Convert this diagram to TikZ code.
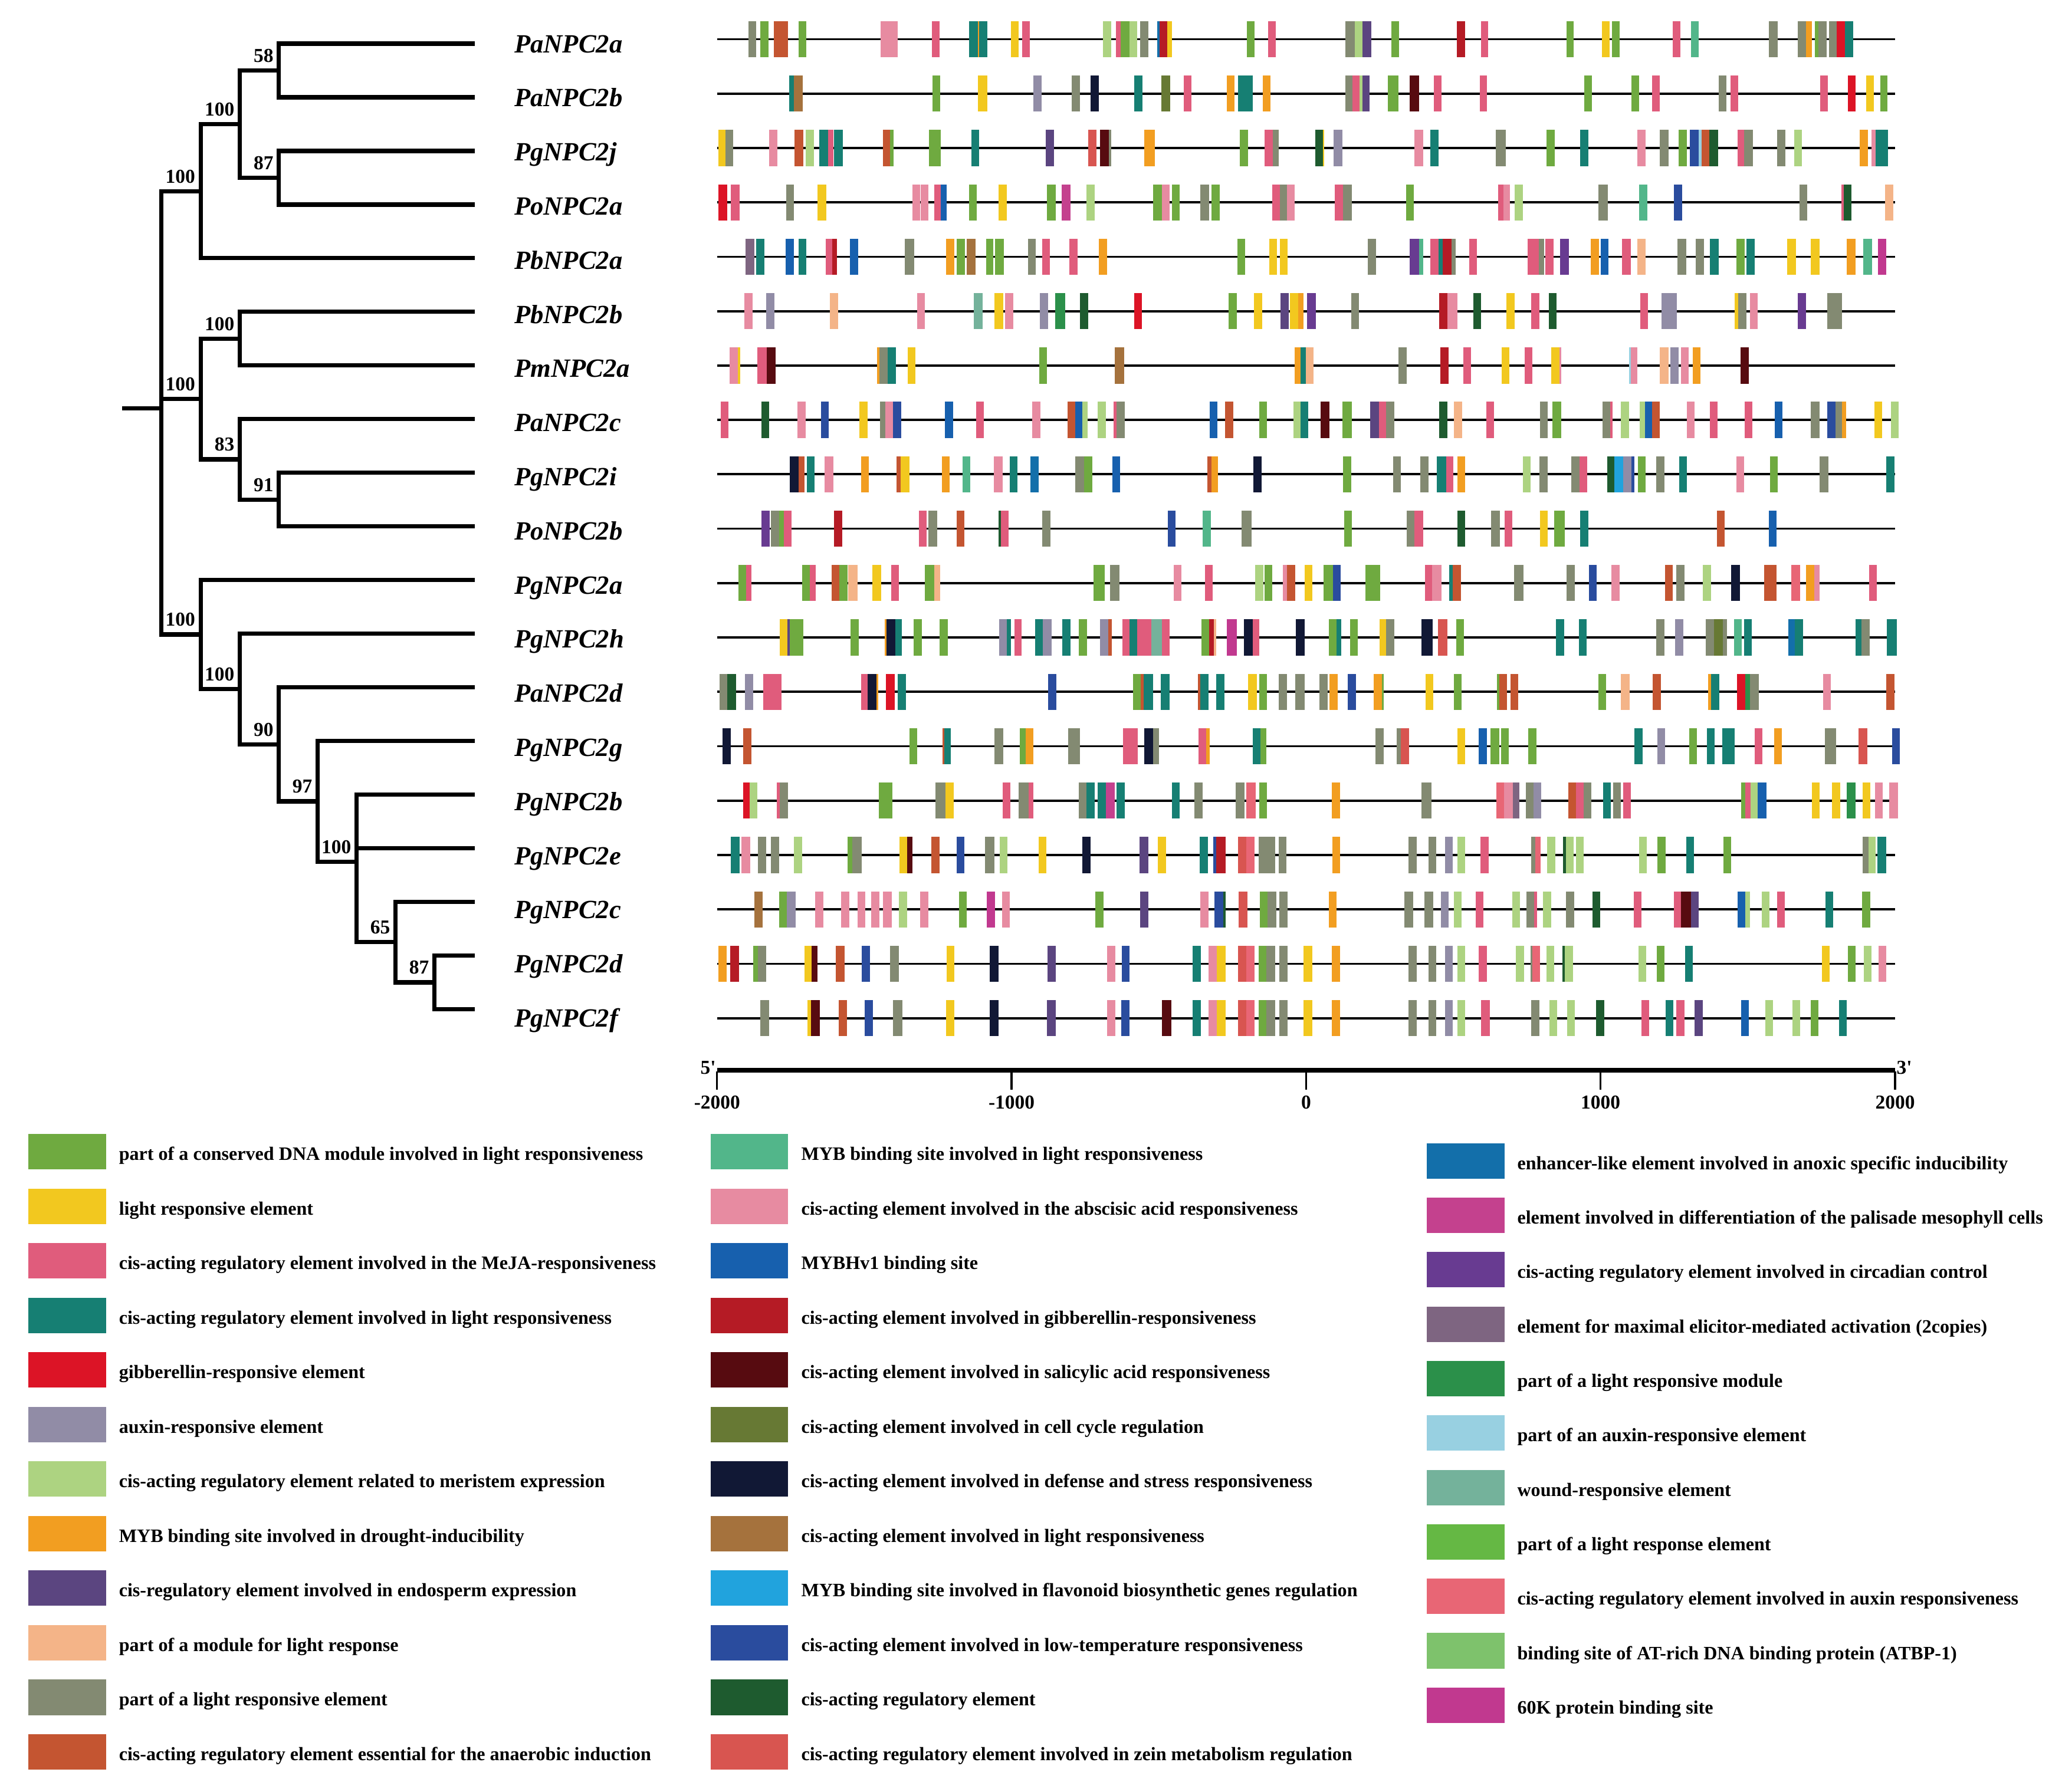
\documentclass[tikz,border=0pt]{standalone}
\usepackage{fontspec}
\setmainfont{Liberation Serif}
\newfontfamily\qfont[Ligatures=TeXOff]{Liberation Serif}
\definecolor{G1}{HTML}{6FAA40}
\definecolor{YE}{HTML}{F2C81F}
\definecolor{PR}{HTML}{E05C7C}
\definecolor{TE}{HTML}{167F73}
\definecolor{RE}{HTML}{DC1426}
\definecolor{LA}{HTML}{918CA6}
\definecolor{LG}{HTML}{ADD381}
\definecolor{OR}{HTML}{F29E21}
\definecolor{PU}{HTML}{5B4580}
\definecolor{PE}{HTML}{F4B488}
\definecolor{GG}{HTML}{838A72}
\definecolor{RU}{HTML}{C45531}
\definecolor{SG}{HTML}{52B68A}
\definecolor{PK}{HTML}{E78BA1}
\definecolor{BL}{HTML}{1760AE}
\definecolor{DR}{HTML}{B51B25}
\definecolor{MA}{HTML}{570B10}
\definecolor{OL}{HTML}{677934}
\definecolor{NA}{HTML}{111835}
\definecolor{BR}{HTML}{A5723D}
\definecolor{SK}{HTML}{21A3DD}
\definecolor{RB}{HTML}{2A4C9E}
\definecolor{DG}{HTML}{1E5B2F}
\definecolor{CO}{HTML}{D85550}
\definecolor{EB}{HTML}{136FAA}
\definecolor{MG}{HTML}{C4418E}
\definecolor{VI}{HTML}{683B91}
\definecolor{MV}{HTML}{7E6581}
\definecolor{LM}{HTML}{2B904A}
\definecolor{LB}{HTML}{98D0E1}
\definecolor{WS}{HTML}{74B29B}
\definecolor{BG}{HTML}{65B844}
\definecolor{SA}{HTML}{E86675}
\definecolor{AT}{HTML}{7EC26C}
\definecolor{MK}{HTML}{C1398F}
\newcommand\trkL[2]{\foreach \bxa/\bxb/\bxc in {#2}{\fill[\bxc] ({538.2+0.2946*\bxa},{29.8+41.37*#1-13.75}) rectangle ({538.2+0.2946*\bxb},{29.8+41.37*#1+13.75});}}
\newcommand\trkR[2]{\foreach \bxa/\bxb/\bxc in {#2}{\fill[\bxc] ({986.7+0.2946*\bxa},{29.8+41.37*#1-13.75}) rectangle ({986.7+0.2946*\bxb},{29.8+41.37*#1+13.75});}}
\tikzset{
 tree/.style={line width=3.2pt, line join=miter},
 bs/.style={font=\fontsize{15}{18}\selectfont\bfseries, inner sep=0pt, anchor=south east},
 gene/.style={font=\fontsize{20}{24}\selectfont\bfseries\itshape, inner sep=0pt, anchor=base west},
 track/.style={line width=1.7pt},
 legsw/.style={minimum width=59pt, minimum height=27pt, inner sep=0pt, draw=none},
 legtx/.style={font=\fontsize{14.4}{17}\selectfont\bfseries, inner sep=0pt, anchor=base west},
 axl/.style={font=\fontsize{15}{18}\selectfont\bfseries, inner sep=0pt},
}
\begin{document}
\begin{tikzpicture}[x=1pt,y=-1pt]
\useasboundingbox (0,0) rectangle (1568,1363);
% ---------- tree ----------
\foreach \i in {0,...,18} \coordinate (leaf\i) at (361,{33.2+40.8*\i});
\coordinate (n58) at (212.1,53.6);
\coordinate (n87a) at (212.1,135.2);
\coordinate (n1a) at (182.4,94.4);
\coordinate (n1) at (152.6,145.4);
\coordinate (n56) at (182.4,257.6);
\coordinate (n91) at (212.1,380);
\coordinate (n83) at (182.4,349.4);
\coordinate (n2) at (152.6,303.5);
\coordinate (n87b) at (330.4,747.2);
\coordinate (n65) at (300.8,716.6);
\coordinate (n100p) at (271.2,655.4);
\coordinate (n97) at (241.6,609.5);
\coordinate (n90) at (212.1,566.1);
\coordinate (n100c) at (182.4,524.1);
\coordinate (n3) at (152.6,482.6);
\coordinate (root) at (122.8,310.5);
\coordinate (rootstub) at (92.8,310.5);
\draw[tree] (rootstub) -- (root);
\draw[tree] (root) |- (n1); \draw[tree] (root) |- (n2); \draw[tree] (root) |- (n3);
\draw[tree] (n1) |- (n1a); \draw[tree] (n1) |- (leaf4);
\draw[tree] (n1a) |- (n58); \draw[tree] (n1a) |- (n87a);
\draw[tree] (n58) |- (leaf0); \draw[tree] (n58) |- (leaf1);
\draw[tree] (n87a) |- (leaf2); \draw[tree] (n87a) |- (leaf3);
\draw[tree] (n2) |- (n56); \draw[tree] (n2) |- (n83);
\draw[tree] (n56) |- (leaf5); \draw[tree] (n56) |- (leaf6);
\draw[tree] (n83) |- (leaf7); \draw[tree] (n83) |- (n91);
\draw[tree] (n91) |- (leaf8); \draw[tree] (n91) |- (leaf9);
\draw[tree] (n3) |- (leaf10); \draw[tree] (n3) |- (n100c);
\draw[tree] (n100c) |- (leaf11); \draw[tree] (n100c) |- (n90);
\draw[tree] (n90) |- (leaf12); \draw[tree] (n90) |- (n97);
\draw[tree] (n97) |- (leaf13); \draw[tree] (n97) |- (n100p);
\draw[tree] (n100p) |- (leaf14); \draw[tree] (n100p) |- (leaf15); \draw[tree] (n100p) |- (n65);
\draw[tree] (n65) |- (leaf16); \draw[tree] (n65) |- (n87b);
\draw[tree] (n87b) |- (leaf17); \draw[tree] (n87b) |- (leaf18);
\foreach \n/\v in {n58/58,n87a/87,n1a/100,n1/100,n56/100,n2/100,n83/83,n91/91,n3/100,n100c/100,n90/90,n97/97,n100p/100,n65/65,n87b/87}
  \node[bs] (b\n) at ([xshift=-4pt,yshift=6pt]\n) {\v};
% ---------- gene labels ----------
\foreach \i/\g in {0/PaNPC2a,1/PaNPC2b,2/PgNPC2j,3/PoNPC2a,4/PbNPC2a,5/PbNPC2b,6/PmNPC2a,7/PaNPC2c,8/PgNPC2i,9/PoNPC2b,10/PgNPC2a,11/PgNPC2h,12/PaNPC2d,13/PgNPC2g,14/PgNPC2b,15/PgNPC2e,16/PgNPC2c,17/PgNPC2d,18/PgNPC2f}
  \node[gene] (g\i) at (391,{33+41.17*\i+7}) {\g};
% ---------- tracks ----------
\foreach \i in {0,...,18}{
  \coordinate (ts\i) at (545.6,{29.8+41.37*\i});
  \coordinate (te\i) at (1441,{29.8+41.37*\i});
  \draw[track] (ts\i) -- (te\i);
}
\trkL{0}{105/125/GG,136/157/G1,170/207/RU,234/255/G1,446/490/PK,579/599/PR,675/697/TE,697/700/OR,700/721/TE,782/802/YE,812/832/PR,1020/1041/LG,1053/1066/PR,1066/1088/G1,1088/1108/LG,1116/1138/GG,1160/1166/EB,1166/1186/DR,1186/1198/YE,1392/1412/G1,1446/1466/PR}
\trkR{0}{123/148/GG,148/167/LG,167/190/PU,242/262/G1,411/432/DR,473/492/PR,694/713/G1,786/806/YE,812/832/G1,968/988/PR,1015/1035/SG,1217/1240/GG,1291/1313/GG,1313/1328/OR,1335/1345/G1,1345/1365/GG,1372/1392/GG,1392/1413/RE,1413/1434/TE}
\trkL{1}{210/222/TE,222/245/BR,580/600/G1,697/721/YE,840/861/LA,940/960/GG,988/1010/NA,1101/1122/TE,1171/1194/OL,1228/1248/PR,1340/1360/OR,1368/1407/TE,1433/1452/OR}
\trkR{1}{123/142/GG,142/160/PR,160/167/LG,167/186/PU,233/260/G1,290/314/MA,351/371/PR,470/489/PR,740/760/G1,862/882/G1,915/935/PR,1087/1107/GG,1117/1137/PR,1349/1369/PR,1420/1440/RE,1468/1488/YE,1504/1523/G1}
\trkL{2}{28/45/YE,45/65/GG,158/179/PK,224/246/RU,253/274/LG,288/310/TE,310/324/PR,326/349/TE,452/470/RU,470/480/G1,571/602/G1,680/701/TE,872/893/PU,982/1004/CO,1012/1035/MA,1035/1042/GG,1127/1154/OR,1374/1394/G1,1437/1458/PR,1458/1473/GG}
\trkR{2}{46/66/DG,66/69/YE,93/115/LA,301/325/PK,343/364/TE,512/537/GG,643/664/G1,730/751/TE,877/898/PK,935/957/GG,984/1005/G1,1013/1036/RB,1036/1043/LB,1043/1063/RU,1063/1085/DG,1136/1152/PR,1152/1176/GG,1238/1259/GG,1282/1302/LG,1451/1472/OR,1482/1492/PK,1492/1524/TE}
\trkL{3}{28/50/RE,60/82/PR,202/223/GG,283/306/YE,528/548/PK,550/570/PK,584/602/PR,602/616/BL,674/695/G1,751/772/YE,876/898/G1,913/936/MG,978/999/LG,1150/1172/G1,1172/1192/PK,1198/1218/G1,1272/1294/GG,1300/1321/G1,1457/1477/PR,1477/1495/GG,1495/1515/PK}
\trkR{3}{96/117/PR,117/140/GG,280/300/G1,517/532/PR,532/548/PK,560/581/LG,777/801/GG,881/903/SG,972/993/RB,1296/1316/GG,1404/1410/PR,1410/1430/DG,1516/1538/PE}
\trkL{4}{97/120/MV,125/146/TE,201/222/BL,234/255/TE,304/322/PR,322/334/DR,367/388/BL,508/533/GG,615/636/OR,642/664/G1,668/691/BR,718/737/G1,741/764/G1,827/847/GG,863/883/PR,934/955/PR,1010/1031/OR,1367/1387/G1,1449/1469/YE,1477/1497/YE}
\trkR{4}{181/202/GG,290/313/VI,313/325/SG,343/364/PR,364/374/TE,374/397/DR,397/408/GG,443/463/PR,594/623/PR,623/636/GG,640/661/PR,678/701/VI,757/778/OR,782/803/BL,838/860/PR,877/898/PE,981/1004/GG,1027/1049/GG,1064/1087/TE,1133/1154/G1,1158/1180/TE,1264/1286/YE,1325/1347/YE,1418/1440/OR,1460/1483/SG,1498/1520/MK}
\trkL{5}{94/115/PK,150/172/LA,315/337/PE,540/560/PK,687/709/WS,740/762/YE,767/789/PK,857/878/LA,896/922/LM,961/982/DG,1100/1121/RE,1345/1366/G1,1410/1431/YE,1478/1500/PU,1502/1524/YE,1524/1537/OR}
\trkR{5}{25/48/VI,138/158/GG,365/387/DR,387/412/PK,453/473/DG,539/560/YE,603/624/PR,648/668/DG,884/905/PR,940/979/LA,1128/1138/YE,1138/1158/GG,1168/1188/PK,1291/1313/VI,1367/1405/GG}
\trkL{6}{56/77/PK,77/83/YE,128/152/PR,152/175/MA,437/443/OR,443/465/GG,465/486/TE,516/536/YE,856/876/G1,1050/1075/BR,1515/1530/OR,1530/1543/TE,1543/1564/PE}
\trkR{6}{260/282/GG,368/390/DR,428/448/PR,527/547/YE,586/606/PR,654/676/YE,676/680/PK,855/860/LB,860/877/PK,935/957/PE,962/983/LA,990/1010/PK,1020/1040/OR,1143/1165/MA}
\trkL{7}{34/54/PR,138/158/DG,231/252/PK,292/312/RB,391/412/YE,445/458/GG,458/478/PK,478/499/RB,612/634/BL,692/712/PR,838/858/PK,929/948/RU,948/966/BL,966/980/LG,1007/1028/LG,1048/1055/PR,1055/1076/GG,1295/1315/BL,1335/1356/RU,1423/1443/G1,1512/1530/LG,1530/1550/TE}
\trkR{7}{60/82/MA,115/140/G1,188/210/PU,210/228/PR,228/250/GG,366/387/DG,403/425/PE,487/507/PR,625/646/GG,658/680/G1,787/807/GG,807/813/PR,835/856/LG,883/897/LG,897/915/BL,915/935/RU,1005/1025/PK,1064/1084/PR,1154/1174/PR,1231/1252/BL,1324/1347/GG,1367/1388/RB,1388/1405/GG,1405/1416/OR,1489/1509/YE,1532/1552/LG}
\trkL{8}{212/234/NA,234/250/RU,256/276/TE,301/325/PK,396/416/OR,487/498/RU,498/520/YE,604/624/OR,657/678/SG,738/761/PK,780/800/TE,833/854/EB,948/972/GG,972/992/G1,1044/1064/BL,1290/1300/RU,1300/1317/OR,1408/1430/NA}
\trkR{8}{118/138/G1,247/267/GG,316/338/GG,360/383/TE,383/402/PR,412/432/OR,582/602/LG,624/645/GG,707/728/GG,728/747/PR,800/818/DG,818/840/SK,840/862/LA,862/869/RB,878/898/G1,926/947/GG,985/1005/TE,1133/1153/PK,1219/1239/G1,1347/1370/GG,1519/1540/TE}
\trkL{9}{138/160/VI,163/184/GG,184/196/G1,196/216/PR,326/347/DR,545/565/PR,569/592/GG,642/663/RU,751/757/DG,757/777/PR,863/884/GG,1187/1208/RB,1277/1299/SG,1378/1403/GG}
\trkR{9}{120/140/G1,281/302/GG,302/324/PR,413/433/DG,500/522/GG,535/554/PR,626/645/YE,663/690/G1,729/750/TE,1082/1102/RU,1217/1237/BL}
\trkL{10}{79/99/G1,99/113/PR,243/263/G1,263/279/PR,320/340/RU,340/361/G1,363/386/PE,425/448/YE,473/493/PR,560/584/G1,584/600/PE,995/1025/G1,1039/1063/GG,1202/1223/PK,1283/1303/PR,1413/1434/LG,1437/1457/G1,1485/1495/PK,1495/1516/RU,1540/1560/YE}
\trkR{10}{67/91/G1,91/111/RB,175/213/G1,329/347/PR,347/372/PK,391/401/TE,401/422/RU,559/583/GG,694/715/GG,752/772/RB,810/831/PK,949/969/RU,977/999/GG,1046/1067/LG,1119/1142/NA,1205/1237/RU,1275/1297/SA,1312/1333/OR,1333/1348/PK,1475/1495/PR}
\trkL{11}{186/206/YE,206/211/PU,211/247/G1,369/390/G1,457/462/OR,462/484/NA,484/501/TE,532/553/G1,599/620/G1,752/772/LA,772/783/TE,791/810/PR,845/865/TE,865/888/LA,915/936/TE,958/979/G1,1013/1033/LA,1033/1043/RU,1071/1088/PR,1088/1108/TE,1108/1125/PR,1125/1145/PR,1145/1172/WS,1172/1192/PR,1275/1294/G1,1294/1306/DR,1306/1313/PE,1340/1366/MK,1384/1406/NA,1406/1424/PR,1518/1540/NA}
\trkR{11}{81/101/G1,101/113/TE,135/155/G1,211/229/YE,229/250/GG,320/348/NA,362/386/CO,410/430/G1,667/688/TE,726/746/TE,926/947/GG,974/996/LA,1054/1075/GG,1075/1097/OL,1097/1108/GG,1126/1146/SG,1152/1172/TE,1266/1284/EB,1284/1304/TE,1440/1455/TE,1455/1477/GG,1521/1547/TE}
\trkL{12}{30/50/GG,50/73/DG,96/118/LA,143/190/PR,396/413/PR,413/436/NA,436/440/OR,460/482/RE,491/512/TE,878/900/RB,1098/1118/G1,1118/1125/RU,1125/1150/TE,1170/1192/TE,1265/1272/RU,1272/1292/TE,1312/1333/TE,1395/1417/YE,1423/1443/G1,1473/1495/GG,1517/1540/GG}
\trkR{12}{57/78/GG,82/103/OR,130/151/RB,197/217/OR,217/222/G1,330/350/YE,403/423/G1,515/521/G1,521/541/RU,549/569/RU,776/796/G1,835/857/PE,917/938/RU,1060/1068/OR,1068/1088/TE,1135/1155/RE,1155/1168/LM,1168/1191/GG,1356/1376/PK,1520/1540/RU}
\trkL{13}{38/60/NA,92/112/RU,521/541/G1,606/610/RU,610/628/TE,740/763/GG,805/820/G1,820/840/OR,930/961/GG,1072/1110/PR,1126/1150/NA,1150/1165/GG,1267/1286/PR,1286/1295/OR,1406/1426/TE,1426/1442/G1}
\trkR{13}{201/223/GG,256/266/GG,266/288/CO,413/433/YE,468/489/BL,498/520/G1,525/545/G1,595/616/G1,870/890/TE,928/948/LA,1011/1031/G1,1056/1076/TE,1096/1128/TE,1180/1200/PR,1230/1250/OR,1361/1390/GG,1448/1470/CO,1535/1555/RB}
\trkL{14}{92/108/RE,108/128/LG,178/185/PR,185/207/GG,441/477/G1,587/614/GG,614/635/YE,761/781/PR,803/828/GG,828/840/PR,958/978/GG,978/998/TE,1007/1027/TE,1027/1050/MG,1055/1076/TE,1198/1218/TE,1256/1278/GG,1363/1385/GG,1390/1414/SA,1423/1444/G1}
\trkR{14}{89/110/OR,320/345/GG,513/533/SA,533/556/PK,556/572/MV,589/609/GG,609/629/LA,699/719/RU,719/738/PR,738/758/GG,788/808/TE,815/835/GG,840/860/PR,1145/1155/G1,1155/1170/PR,1170/1188/LG,1188/1210/BL,1327/1347/YE,1380/1400/YE,1417/1440/LM,1458/1479/YE,1490/1511/PK,1527/1550/PK}
\trkL{15}{60/82/TE,87/109/PK,129/150/GG,163/184/GG,222/243/LG,361/373/G1,373/397/GG,495/515/YE,515/528/MA,577/598/RU,643/663/RB,716/740/GG,754/774/LG,854/874/YE,966/988/NA,1115/1137/PU,1162/1183/YE,1270/1291/TE,1305/1313/RB,1313/1336/DR,1368/1390/CO,1390/1412/SA,1422/1464/GG,1473/1494/GG}
\trkR{15}{90/110/OR,286/307/GG,338/358/GG,380/400/LA,412/432/LG,472/493/PR,603/613/GG,613/628/SA,644/665/LG,685/692/DG,692/712/LG,719/739/LG,882/902/LG,929/950/G1,1003/1023/TE,1099/1119/G1,1458/1473/GG,1473/1492/LG,1497/1520/TE}
\trkL{16}{120/142/BR,184/204/G1,204/227/LA,277/298/PK,344/365/PK,386/407/PK,422/443/PK,452/475/PK,494/514/LG,548/569/PK,648/669/G1,720/742/MK,759/779/PK,1001/1022/G1,1116/1138/PU,1272/1293/PK,1308/1330/RB,1330/1336/DG,1370/1393/CO,1425/1445/G1,1445/1467/GG,1475/1496/GG}
\trkR{16}{80/101/OR,276/298/GG,328/350/GG,370/390/LA,403/424/LG,460/480/PR,554/574/LG,591/610/GG,610/618/PR,634/655/LG,692/714/GG,761/781/DG,868/888/PR,971/990/PR,990/1015/MA,1015/1036/PU,1136/1156/BL,1156/1168/LG,1198/1218/LG,1238/1258/PR,1362/1383/TE,1457/1478/G1}
\trkL{17}{28/48/OR,58/80/DR,117/130/G1,130/151/GG,250/268/YE,268/283/MA,331/353/RU,397/419/RB,470/493/GG,616/636/YE,728/751/NA,877/898/PU,1031/1052/PK,1069/1089/RB,1252/1273/TE,1292/1314/PK,1314/1336/YE,1369/1390/CO,1390/1412/SA,1422/1442/G1,1442/1465/GG,1475/1496/GG,1538/1560/YE}
\trkR{17}{88/110/OR,286/307/GG,338/358/GG,380/400/LA,412/432/LG,468/489/PR,563/584/LG,601/606/GG,606/626/SA,642/663/LG,684/690/DG,690/711/LG,880/900/LG,927/947/G1,1000/1020/TE,1353/1374/YE,1420/1441/G1,1461/1481/LG,1500/1520/PK}
\trkL{18}{136/158/GG,257/267/YE,267/290/MA,338/359/RU,405/426/RB,478/502/GG,615/636/YE,727/751/NA,876/898/PU,1031/1052/PK,1068/1089/RB,1172/1196/MA,1252/1273/TE,1292/1314/PK,1314/1336/YE,1369/1390/CO,1390/1412/SA,1422/1442/G1,1442/1465/GG,1475/1496/GG,1538/1560/YE}
\trkR{18}{88/110/OR,286/307/GG,338/358/GG,380/400/LA,412/432/LG,473/497/PR,603/624/GG,650/670/LG,696/716/LG,771/792/DG,888/908/PR,950/970/TE,978/999/PR,1025/1046/PU,1145/1165/BL,1207/1227/LG,1277/1297/LG,1324/1344/G1,1398/1418/TE}
% ---------- axis ----------
\coordinate (ax0) at (545.3,814);
\coordinate (ax1) at (1441.1,814);
\draw[line width=3.5pt] (ax0) -- (ax1);
\foreach \x/\t [count=\j] in {545.3/-2000,769.2/-1000,993.2/0,1217.1/1000,1441.1/2000}{
  \coordinate (tk\j) at (\x,815);
  \coordinate (tb\j) at (\x,829);
  \draw[line width=1.5pt] (tk\j) -- (tb\j);
  \node[axl] (al\j) at (\x,838.5) {\t};
}
\node[axl, anchor=east] (p5) at (544.5,812) {\qfont\bfseries 5'};
\node[axl, anchor=west] (p3) at (1442,812) {\qfont\bfseries 3'};
% ---------- legend ----------
\foreach \k/\col/\txt in {
 0/G1/part of a conserved DNA module involved in light responsiveness,
 1/YE/light responsive element,
 2/PR/cis-acting regulatory element involved in the MeJA-responsiveness,
 3/TE/cis-acting regulatory element involved in light responsiveness,
 4/RE/gibberellin-responsive element,
 5/LA/auxin-responsive element,
 6/LG/cis-acting regulatory element related to meristem expression,
 7/OR/MYB binding site involved in drought-inducibility,
 8/PU/cis-regulatory element involved in endosperm expression,
 9/PE/part of a module for light response,
 10/GG/part of a light responsive element,
 11/RU/cis-acting regulatory element essential for the anaerobic induction}{
  \node[legsw, fill=\col] (sa\k) at (51.1,{876+41.5*\k}) {};
  \node[legtx] (ta\k) at (90.3,{876+41.5*\k+6.5}) {\txt};
}
\foreach \k/\col/\txt in {
 0/SG/MYB binding site involved in light responsiveness,
 1/PK/cis-acting element involved in the abscisic acid responsiveness,
 2/BL/MYBHv1 binding site,
 3/DR/cis-acting element involved in gibberellin-responsiveness,
 4/MA/cis-acting element involved in salicylic acid responsiveness,
 5/OL/cis-acting element involved in cell cycle regulation,
 6/NA/cis-acting element involved in defense and stress responsiveness,
 7/BR/cis-acting element involved in light responsiveness,
 8/SK/MYB binding site involved in flavonoid biosynthetic genes regulation,
 9/RB/cis-acting element involved in low-temperature responsiveness,
 10/DG/cis-acting regulatory element,
 11/CO/cis-acting regulatory element involved in zein metabolism regulation}{
  \node[legsw, fill=\col] (sb\k) at (569.9,{876+41.5*\k}) {};
  \node[legtx] (tb\k) at (609.1,{876+41.5*\k+6.5}) {\txt};
}
\foreach \k/\col/\txt in {
 0/EB/enhancer-like element involved in anoxic specific inducibility,
 1/MG/element involved in differentiation of the palisade mesophyll cells,
 2/VI/cis-acting regulatory element involved in circadian control,
 3/MV/element for maximal elicitor-mediated activation (2copies),
 4/LM/part of a light responsive module,
 5/LB/part of an auxin-responsive element,
 6/WS/wound-responsive element,
 7/BG/part of a light response element,
 8/SA/cis-acting regulatory element involved in auxin responsiveness,
 9/AT/binding site of AT-rich DNA binding protein (ATBP-1),
 10/MK/60K protein binding site}{
  \node[legsw, fill=\col] (sc\k) at (1114.5,{883+41.4*\k}) {};
  \node[legtx] (tc\k) at (1153.6,{883+41.4*\k+6.5}) {\txt};
}
\end{tikzpicture}
\end{document}
